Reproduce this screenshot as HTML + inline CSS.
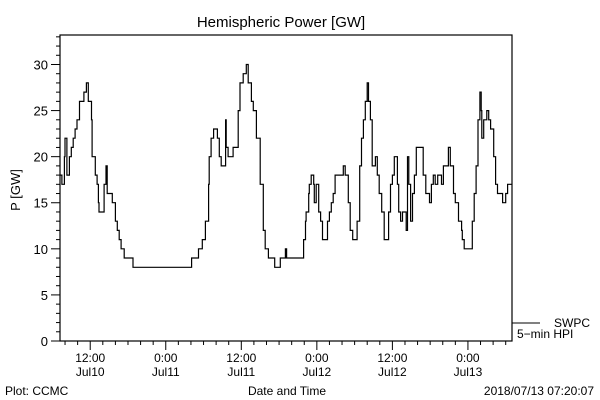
<!DOCTYPE html>
<html><head><meta charset="utf-8"><style>
html,body{margin:0;padding:0;background:#fff;}
svg{display:block;font-family:"Liberation Sans",sans-serif;}
</style></head><body>
<svg id="chart" width="600" height="400" viewBox="0 0 600 400">
<rect width="600" height="400" fill="#fff"/>
<text x="281" y="27" font-size="15" text-anchor="middle">Hemispheric Power [GW]</text>
<text transform="translate(20,190) rotate(-90)" font-size="13" text-anchor="middle">P [GW]</text>
<text x="287" y="395" font-size="12" text-anchor="middle">Date and Time</text>
<text x="5" y="395" font-size="12">Plot: CCMC</text>
<text x="594" y="395" font-size="12" text-anchor="end">2018/07/13 07:20:07</text>
<rect x="60" y="35" width="452" height="306" fill="none" stroke="#000" stroke-width="1.2"/>
<g id="yaxis"></g>
<g id="xaxis"></g>
<path id="series" fill="none" stroke="#000" stroke-width="1.2"/>
<g>
<line x1="512" y1="323" x2="540" y2="323" stroke="#000"/>
<text x="590" y="327" font-size="12" text-anchor="end">SWPC</text>
<text x="517" y="338" font-size="12">5−min HPI</text>
</g>
</svg>
<script>
// hours since 2018-07-10 00:00
const hours = [7.2,7.5,7.9,8.0,8.3,8.7,9.0,9.3,9.6,9.9,10.3,10.7,11.0,11.4,11.7,12.0,12.2,12.3,12.8,13.1,13.3,13.4,13.7,14.2,14.5,14.7,15.2,15.5,16.0,16.3,16.6,16.9,17.4,18.8,27.9,28.1,29.2,29.8,30.3,30.8,30.9,31.2,31.6,32.2,32.5,32.8,33.5,33.6,33.9,34.7,35.2,35.5,35.8,36.2,36.3,36.8,37.1,37.6,37.9,38.4,39.0,39.5,39.8,40.3,41.1,41.3,41.9,42.2,43.0,43.2,45.7,45.9,46.2,46.3,46.7,46.8,47.1,47.5,47.6,47.9,48.3,48.6,48.9,49.4,49.7,50.0,50.3,50.6,50.9,51.9,52.2,52.5,53.0,53.3,53.7,54.1,54.4,54.8,55.1,55.4,55.7,56.0,56.2,56.5,56.8,57.3,57.6,57.9,58.3,58.7,59.1,59.4,59.7,60.0,60.3,60.6,60.8,61.0,61.3,61.6,61.9,62.2,62.4,62.6,62.9,63.2,63.5,63.8,64.5,64.9,65.3,65.6,65.9,66.2,66.5,66.8,67.2,67.8,68.1,68.6,68.9,69.2,69.7,70.0,70.5,71.0,71.1,71.4,72.5,72.7,73.0,73.3,73.6,73.9,74.1,74.2,74.5,75.0,75.3,75.6,76.1,76.4,76.7,77.4,77.5,78.0,78.3,79.0];
const power = [18,17,20,22,18,20,21,22,23,24,26,26,27,28,26,26,24,20,18,17,15,14,14,17,19,16,16,15,13,12,11,10,9,8,8,9,10,11,13,17,20,22,23,22,20,19,24,21,20,21,21,25,28,28,29,30,28,26,25,22,17,12,10,9,9,8,8,9,10,9,9,11,13,14,16,17,18,17,15,17,14,13,11,11,13,14,15,16,18,18,19,18,15,12,11,11,13,19,22,24,26,28,26,24,19,20,18,16,14,11,11,14,17,18,20,20,17,14,13,14,14,12,20,17,13,16,18,21,21,18,16,16,15,17,18,17,18,17,19,19,21,19,16,15,13,12,11,10,10,13,16,19,24,27,25,22,24,25,24,23,20,17,16,16,15,16,17,17];
const yTicks = [0,5,10,15,20,25,30];
const xTickHours = [12,24,36,48,60,72];
const xTickTime = ["12:00","0:00","12:00","0:00","12:00","0:00"];
const xTickDate = ["Jul10","Jul11","Jul11","Jul12","Jul12","Jul13"];

const X0=60,X1=512,Y0=341,Y1=35,H0=7.2,H1=79.0,V0=0,V1=33.2;
const xs=h=>X0+(h-H0)/(H1-H0)*(X1-X0);
const ys=v=>Y0-(v-V0)/(V1-V0)*(Y0-Y1);
const NS="http://www.w3.org/2000/svg";
function mk(tag,attrs,parent){const e=document.createElementNS(NS,tag);for(const k in attrs)e.setAttribute(k,attrs[k]);parent.appendChild(e);return e;}

const ya=document.getElementById('yaxis');
for(let v=0;v<=33;v++){
  const t=mk('line',{x1:X0,x2:X0-(v%5===0?9:4),y1:ys(v),y2:ys(v),stroke:'#000'},ya);
  
  
}
yTicks.forEach(v=>{
  const t=mk('text',{x:X0-12,y:ys(v)+5,'font-size':13,'text-anchor':'end'},ya);
  t.textContent=v;
  
  
});
const xa=document.getElementById('xaxis');
for(let h=Math.ceil(H0/2)*2;h<=H1;h+=2){
  const t=mk('line',{x1:xs(h),x2:xs(h),y1:Y0,y2:Y0+(h%12===0?9:4),stroke:'#000'},xa);
  
  
}
xTickHours.forEach((h,i)=>{
  const a=mk('text',{x:xs(h),y:362,'font-size':12,'text-anchor':'middle'},xa);
  a.textContent=xTickTime[i];
  
  
  const b=mk('text',{x:xs(h),y:376,'font-size':12,'text-anchor':'middle'},xa);
  b.textContent=xTickDate[i];
  
  
});
let d='M'+xs(hours[0]).toFixed(1)+','+ys(power[0]).toFixed(1);
for(let i=1;i<hours.length;i++){
  d+=' H'+xs(hours[i]).toFixed(1)+' V'+ys(power[i]).toFixed(1);
}
document.getElementById('series').setAttribute('d',d);
</script>
</body></html>
